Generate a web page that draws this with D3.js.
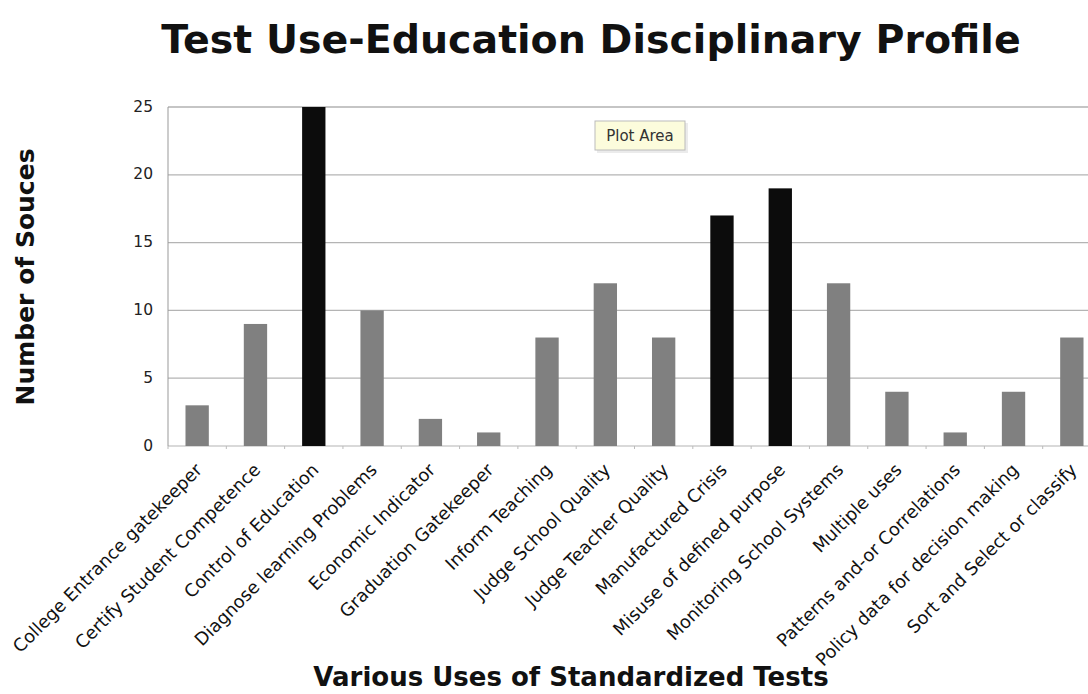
<!DOCTYPE html>
<html>
<head>
<meta charset="utf-8">
<script src="https://cdn.jsdelivr.net/npm/d3@7"></script>
<style>
  body { margin: 0; background: #fff; }
  svg { display: block; font-family: "DejaVu Sans", sans-serif; }
</style>
</head>
<body>
<svg id="chart"></svg>
<script>
const WIDTH = 1088;
const HEIGHT = 694;

const categories = [
  "College Entrance gatekeeper", "Certify Student Competence", "Control of Education",
  "Diagnose learning Problems", "Economic Indicator", "Graduation Gatekeeper",
  "Inform Teaching", "Judge School Quality", "Judge Teacher Quality",
  "Manufactured Crisis", "Misuse of defined purpose", "Monitoring School Systems",
  "Multiple uses", "Patterns and-or Correlations", "Policy data for decision making",
  "Sort and Select or classify"
];
const sources = [3, 9, 25, 10, 2, 1, 8, 12, 8, 17, 19, 12, 4, 1, 4, 8];
const highlighted = ["Control of Education", "Manufactured Crisis", "Misuse of defined purpose"];
const yTicks = [0, 5, 10, 15, 20, 25];

const margin = { left: 168, top: 107, right: -13, bottom: 248 };

const svg = d3.select("#chart").attr("width", WIDTH).attr("height", HEIGHT);

const x = d3.scaleBand()
  .domain(categories)
  .range([margin.left, WIDTH - margin.right])
  .paddingInner(0.6)
  .paddingOuter(0.3);

const y = d3.scaleLinear().domain([0, 25]).range([HEIGHT - margin.bottom, margin.top]);

// grid lines
svg.append("g")
  .attr("class", "grid")
  .selectAll("line")
  .data(yTicks)
  .join("line")
  .attr("x1", margin.left)
  .attr("x2", WIDTH)
  .attr("y1", (d) => y(d))
  .attr("y2", (d) => y(d))
  .attr("stroke", (d) => (d === 25 ? "#8c8c8c" : "#b4b4b4"))
  .attr("stroke-width", 1.2);

// left axis line
svg.append("line")
  .attr("x1", margin.left)
  .attr("x2", margin.left)
  .attr("y1", y(25))
  .attr("y2", y(0))
  .attr("stroke", "#999");

// bars
svg.append("g")
  .attr("class", "bars")
  .selectAll("rect")
  .data(categories)
  .join("rect")
  .attr("x", (d) => x(d))
  .attr("width", x.bandwidth())
  .attr("y", (d, i) => y(sources[i]))
  .attr("height", (d, i) => y(0) - y(sources[i]))
  .attr("fill", (d) => (highlighted.includes(d) ? "#0c0c0c" : "#808080"));

// small category ticks under the axis
const step = x.step();
svg.append("g")
  .selectAll("line")
  .data(categories)
  .join("line")
  .attr("x1", (d) => x(d) + x.bandwidth() / 2 - step / 2)
  .attr("x2", (d) => x(d) + x.bandwidth() / 2 - step / 2)
  .attr("y1", y(0))
  .attr("y2", y(0) + 3)
  .attr("stroke", "#bbb");

// y tick labels
svg.append("g")
  .selectAll("text")
  .data(yTicks)
  .join("text")
  .attr("x", margin.left - 15)
  .attr("y", (d) => y(d))
  .attr("text-anchor", "end")
  .attr("dominant-baseline", "middle")
  .attr("font-size", 15.5)
  .attr("fill", "#222")
  .text((d) => d);

// x tick labels, rotated
svg.append("g")
  .selectAll("text")
  .data(categories)
  .join("text")
  .attr("transform", (d) => `translate(${x(d) + x.bandwidth() / 2 + 6}, ${y(0) + 25}) rotate(-45)`)
  .attr("text-anchor", "end")
  .attr("font-size", 17.8)
  .attr("fill", "#111")
  .text((d) => d);

// titles
svg.append("text")
  .attr("x", 591)
  .attr("y", 53)
  .attr("text-anchor", "middle")
  .attr("font-size", 39.5)
  .attr("font-weight", "bold")
  .attr("fill", "#111")
  .text("Test Use-Education Disciplinary Profile");

svg.append("text")
  .attr("x", 571)
  .attr("y", 686)
  .attr("text-anchor", "middle")
  .attr("font-size", 26)
  .attr("font-weight", "bold")
  .attr("fill", "#111")
  .text("Various Uses of Standardized Tests");

svg.append("text")
  .attr("transform", "translate(34, 277) rotate(-90)")
  .attr("text-anchor", "middle")
  .attr("font-size", 25)
  .attr("font-weight", "bold")
  .attr("fill", "#111")
  .text("Number of Souces");

// "Plot Area" tooltip
const tip = svg.append("g").attr("transform", "translate(595, 121)");
tip.append("rect")
  .attr("x", 2).attr("y", 2)
  .attr("width", 91).attr("height", 30)
  .attr("fill", "#ddd").attr("opacity", 0.6);
tip.append("rect")
  .attr("width", 90).attr("height", 29)
  .attr("fill", "#fcfcdc")
  .attr("stroke", "#bbb");
tip.append("text")
  .attr("x", 45).attr("y", 15)
  .attr("text-anchor", "middle")
  .attr("dominant-baseline", "middle")
  .attr("font-size", 15)
  .attr("fill", "#333")
  .text("Plot Area");
</script>
</body>
</html>
